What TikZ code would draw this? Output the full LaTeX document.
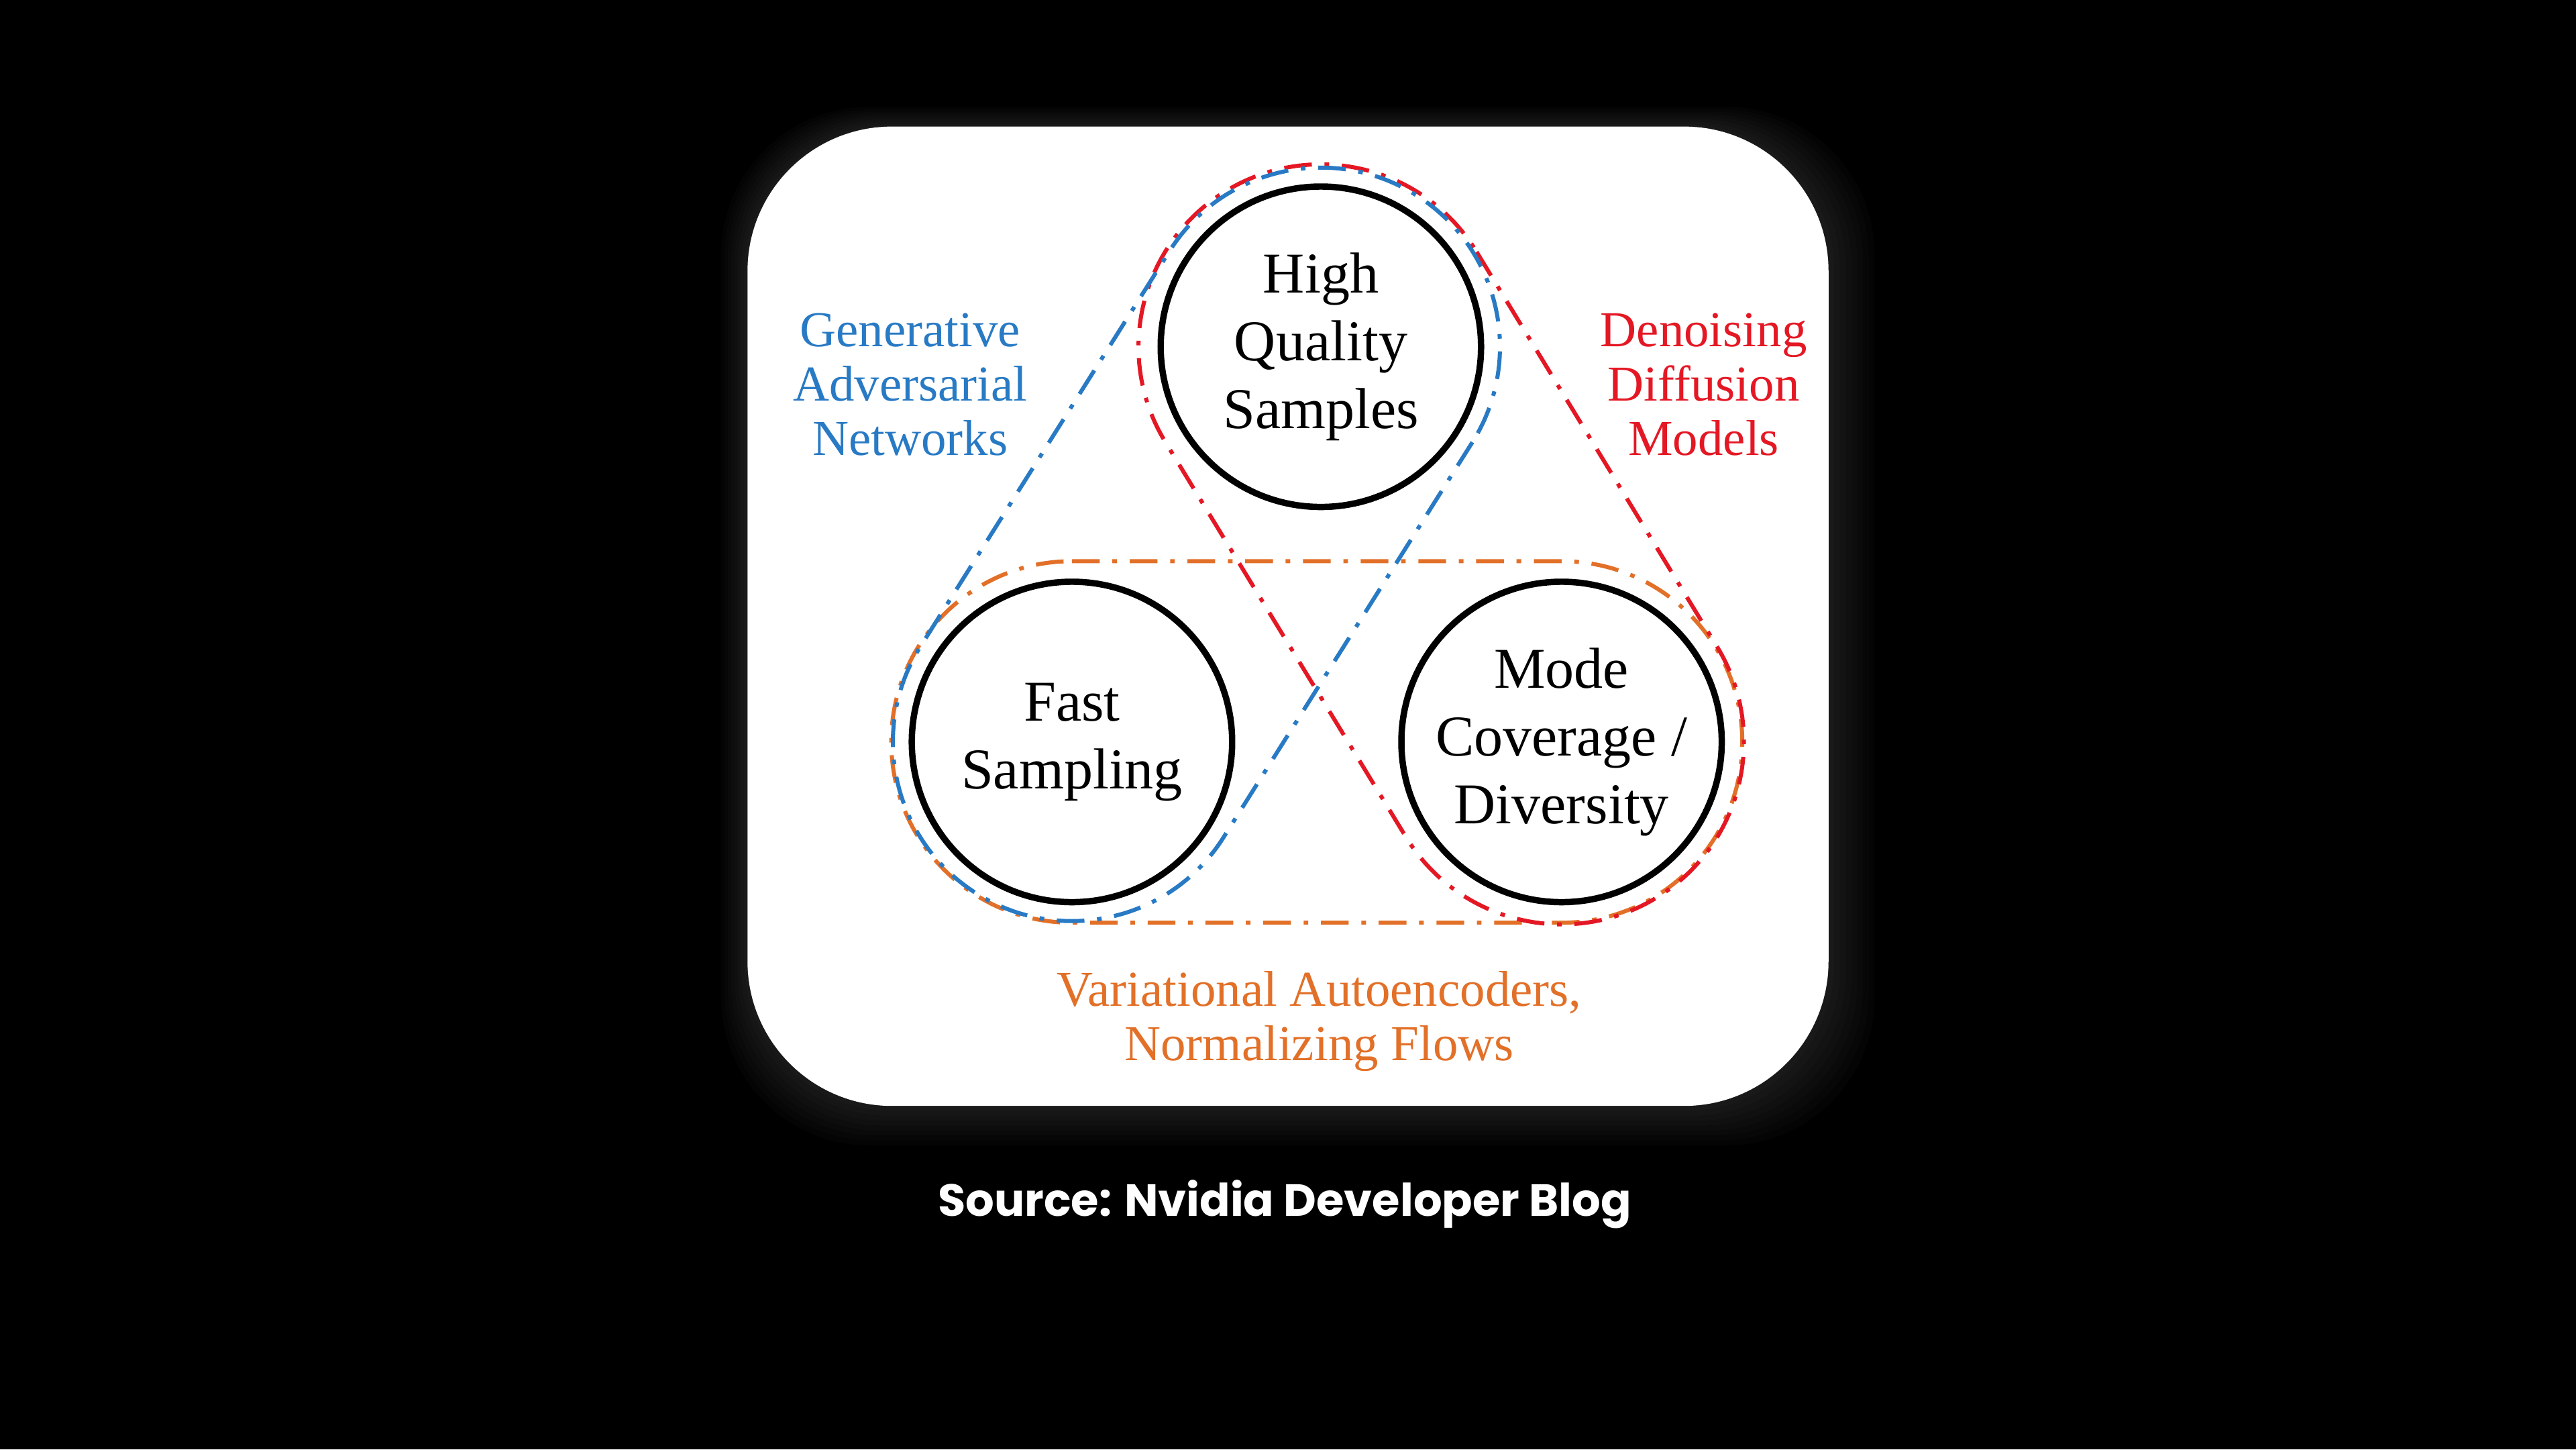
\documentclass[tikz,border=0pt]{standalone}
\usepackage{fontspec}
\setmainfont{Liberation Serif}
\newfontfamily\srcfont{Poppins}
\usetikzlibrary{calc}
\definecolor{ganblue}{RGB}{40,122,196}
\definecolor{ddmred}{RGB}{228,24,36}
\definecolor{vaeorange}{RGB}{226,112,40}
\tikzset{
  goal/.style={circle, draw=black, line width=1.1pt, minimum size=1.95cm, inner sep=0pt,
    align=center, font=\fontsize{10}{11.7}\selectfont},
  family/.style={align=center, font=\fontsize{8.7}{9.4}\selectfont},
  hull/.style={line width=0.7pt, dash pattern=on 4.8pt off 2.2pt on 0.8pt off 2.2pt}
}
\begin{document}
\begin{tikzpicture}
    % Background and card
    \fill[black] (0,-8.82) rectangle (15.68,0);
    \useasboundingbox (0,-8.82) rectangle (15.68,0);
    \foreach \g in {1,...,8}
        \fill[white, opacity=0.014, rounded corners=0.9cm] (4.55-0.02*\g,-6.73-0.03*\g) rectangle (11.13+0.035*\g,-0.77+0.015*\g);
    \fill[white, rounded corners=0.88cm] (4.55,-6.73) rectangle (11.13,-0.77);

    % Goals
    \node[goal] (hq) at (8.04,-2.11) {High\\Quality\\Samples};
    \node[goal] (fast) at (6.525,-4.515) {Fast\\Sampling};
    \node[goal] (mode) at (9.505,-4.515) {Mode\\Coverage /\\Diversity};

    % Model families
    \draw[hull, vaeorange] let \p1=($(mode.center)-(fast.center)$), \n1={atan2(\y1,\x1)} in
        ($(fast.center)+({\n1+90}:1.10)$) -- ($(mode.center)+({\n1+90}:1.10)$)
        arc[start angle=\n1+90, end angle=\n1-90, radius=1.10]
        -- ($(fast.center)+({\n1-90}:1.10)$)
        arc[start angle=\n1-90, end angle=\n1-270, radius=1.10] -- cycle;
    \draw[hull, ddmred] let \p1=($(mode.center)-(hq.center)$), \n1={atan2(\y1,\x1)} in
        ($(hq.center)+({\n1+90}:1.11)$) -- ($(mode.center)+({\n1+90}:1.11)$)
        arc[start angle=\n1+90, end angle=\n1-90, radius=1.11]
        -- ($(hq.center)+({\n1-90}:1.11)$)
        arc[start angle=\n1-90, end angle=\n1-270, radius=1.11] -- cycle;
    \draw[hull, ganblue] let \p1=($(fast.center)-(hq.center)$), \n1={atan2(\y1,\x1)} in
        ($(hq.center)+({\n1+90}:1.09)$) -- ($(fast.center)+({\n1+90}:1.09)$)
        arc[start angle=\n1+90, end angle=\n1-90, radius=1.09]
        -- ($(hq.center)+({\n1-90}:1.09)$)
        arc[start angle=\n1-90, end angle=\n1-270, radius=1.09] -- cycle;

    % Labels
    \node[family, text=ganblue] (gan) at (5.54,-2.34) {Generative\\Adversarial\\Networks};
    \node[family, text=ddmred] (ddm) at (10.37,-2.34) {Denoising\\Diffusion\\Models};
    \node[family, text=vaeorange] (vae) at (8.03,-6.215) {Variational Autoencoders,\\Normalizing Flows};

    % Source
    \node[text=white, font=\srcfont\bfseries\fontsize{7.8}{8.5}\selectfont] (src) at (7.82,-7.33) {Source: Nvidia Developer Blog};
\end{tikzpicture}
\end{document}
